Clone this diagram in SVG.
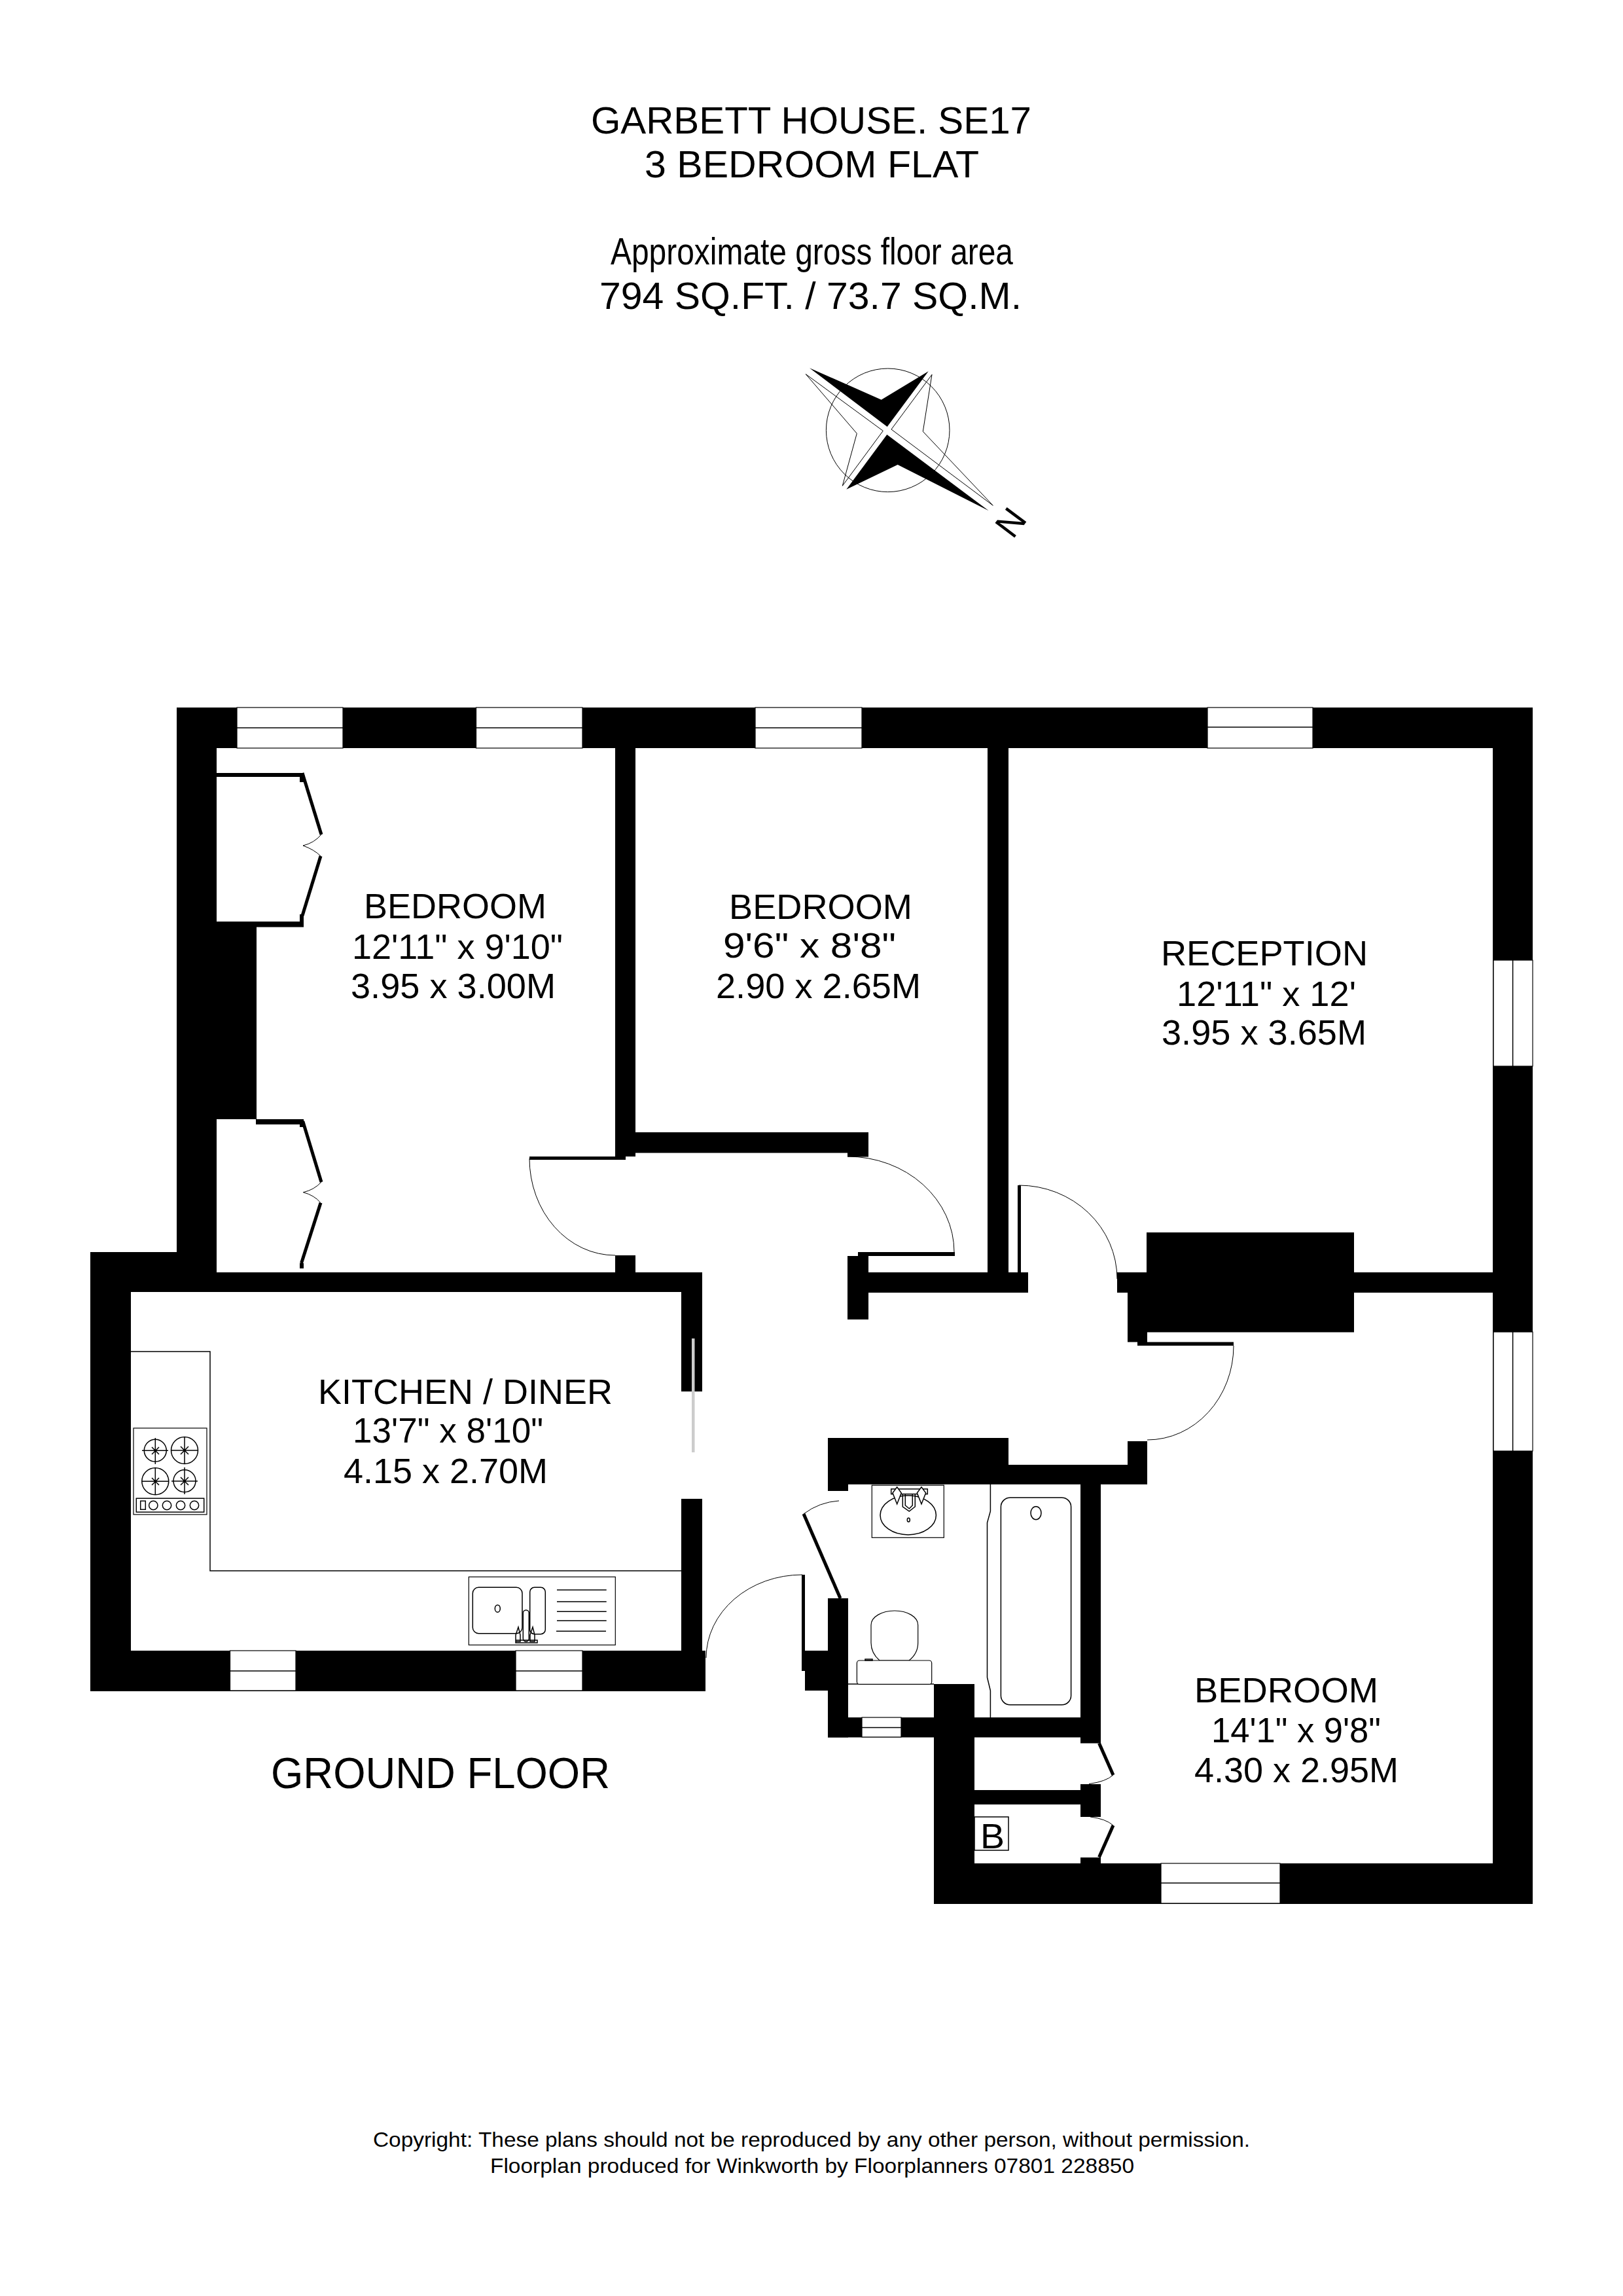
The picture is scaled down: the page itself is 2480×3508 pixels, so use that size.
<svg xmlns="http://www.w3.org/2000/svg" width="2480" height="3508" viewBox="0 0 2480 3508">
<style>
text{font-family:"Liberation Sans",Arial,sans-serif;fill:#000}
.t{font-size:58px}.r{font-size:53px}.f{font-size:32px}
.w{fill:#000;stroke:none}
.win{fill:#fff;stroke:#000;stroke-width:1.2}
.l{fill:none;stroke:#000;stroke-width:1.5}
.a{fill:none;stroke:#000;stroke-width:1}
.leaf{fill:none;stroke:#000;stroke-width:5}
.fx{fill:#fff;stroke:#000;stroke-width:1.2}
</style>
<rect width="2480" height="3508" fill="#fff"/>
<g id="compass">
<circle cx="1356.7" cy="657.3" r="94.3" class="a"/>
<polygon class="w" points="1237,562.3 1346.7,610.7 1418.7,567.3 1355.7,652"/>
<polygon class="w" points="1355.3,664 1510.7,780.3 1371.7,710 1293.3,747.7"/>
<polygon class="a" points="1231.3,571.7 1349.3,658.3 1287.3,742.3 1309.3,662.3"/>
<polygon class="a" points="1424,572.3 1362,656 1517.3,772.3 1410.3,659.3"/>
<text x="1544" y="798" font-size="54" text-anchor="middle" dominant-baseline="central" transform="rotate(-53 1544 798)">N</text>
</g>
<g id="walls">
<rect class="w" x="270" y="1081" width="2072" height="62"/>
<rect class="w" x="270" y="1081" width="61" height="863"/>
<rect class="w" x="331" y="1416" width="61" height="294"/>
<rect class="w" x="331" y="1181" width="133" height="6"/>
<rect class="w" x="458" y="1187" width="6" height="8"/>
<rect class="w" x="331" y="1408" width="133" height="8.500"/>
<rect class="w" x="458" y="1397" width="6" height="11"/>
<rect class="w" x="391" y="1710" width="73" height="8"/>
<rect class="w" x="458" y="1718" width="6" height="4"/>
<rect class="w" x="458" y="1930" width="6" height="8"/>
<rect class="w" x="138" y="1913" width="132" height="61"/>
<rect class="w" x="270" y="1944" width="803" height="30"/>
<rect class="w" x="138" y="1913" width="62" height="671"/>
<rect class="w" x="138" y="2522" width="940" height="62"/>
<rect class="w" x="1041" y="1944" width="32" height="182"/>
<rect class="w" x="1041" y="2290" width="32" height="294"/>
<rect class="w" x="940" y="1143" width="31" height="624"/>
<rect class="w" x="940" y="1767" width="16" height="5"/>
<rect class="w" x="809" y="1767" width="147" height="5"/>
<rect class="w" x="940" y="1918" width="31" height="26"/>
<rect class="w" x="971" y="1730" width="356" height="31.500"/>
<rect class="w" x="1295" y="1761" width="32" height="6.500"/>
<rect class="w" x="1509" y="1143" width="32" height="801"/>
<rect class="w" x="1311" y="1913" width="148" height="6"/>
<rect class="w" x="1295" y="1919" width="32" height="97"/>
<rect class="w" x="1295" y="1944" width="276" height="31"/>
<rect class="w" x="1555" y="1811" width="5" height="133"/>
<rect class="w" x="1707" y="1944" width="574" height="31"/>
<rect class="w" x="1752" y="1883" width="317" height="152.500"/>
<rect class="w" x="1723" y="1975" width="30" height="75.500"/>
<rect class="w" x="1738" y="2035" width="15" height="21"/>
<rect class="w" x="1738" y="2050.500" width="147" height="5.500"/>
<rect class="w" x="2281" y="1143" width="61" height="1766"/>
<rect class="w" x="1427" y="2847" width="915" height="62"/>
<rect class="w" x="1427" y="2573" width="62" height="336"/>
<rect class="w" x="1265" y="2197" width="276" height="71"/>
<rect class="w" x="1265" y="2268" width="31" height="10"/>
<rect class="w" x="1541" y="2238" width="209" height="30"/>
<rect class="w" x="1723" y="2202" width="30" height="66"/>
<rect class="w" x="1651" y="2268" width="31" height="395.500"/>
<rect class="w" x="1265" y="2624" width="386" height="30.500"/>
<rect class="w" x="1265" y="2442" width="31" height="212.500"/>
<rect class="w" x="1230" y="2522" width="35" height="61"/>
<rect class="w" x="1225" y="2406" width="5" height="147"/>
<rect class="w" x="1489" y="2735" width="162" height="22"/>
<rect class="w" x="1651" y="2726" width="31" height="50"/>
<rect class="w" x="1651" y="2838" width="31" height="9"/>
</g>
<g id="windows">
<rect class="win" x="362" y="1081" width="162" height="62"/><path class="l" d="M362 1112H524"/>
<rect class="win" x="727.500" y="1081" width="162.500" height="62"/><path class="l" d="M727.500 1112H890"/>
<rect class="win" x="1154" y="1081" width="163" height="62"/><path class="l" d="M1154 1112H1317"/>
<rect class="win" x="1845" y="1081" width="161" height="62"/><path class="l" d="M1845 1111H2006"/>
<rect class="win" x="2282" y="1467" width="60" height="162"/><path class="l" d="M2311.600 1467V1629"/>
<rect class="win" x="2282" y="2035" width="60" height="182"/><path class="l" d="M2311.600 2035V2217"/>
<rect class="win" x="351.500" y="2522" width="100.500" height="61"/><path class="l" d="M351.500 2553H452"/>
<rect class="win" x="788" y="2522" width="102" height="61"/><path class="l" d="M788 2553H890"/>
<rect class="win" x="1317" y="2624" width="60" height="30"/><path class="l" d="M1317 2639.600H1377"/>
<rect class="win" x="1774" y="2847" width="182" height="61"/><path class="l" d="M1774 2877H1956"/>
<rect x="1057" y="2045" width="4.500" height="174" fill="#ccc"/>
</g>
<g id="doors">
<path class="a" d="M809 1770A131 148 0 0 0 940 1918"/>
<path class="a" d="M1295 1767A163 146 0 0 1 1458 1913"/>
<path class="a" d="M1557 1811A150 143 0 0 1 1707 1954"/>
<path class="a" d="M1885 2056A132 144 0 0 1 1753 2200"/>
<path class="a" d="M1079 2533A147 127 0 0 1 1226 2406"/>
<path class="a" d="M1228 2313Q1252 2295 1282 2293"/>
<path class="leaf" d="M1228 2313L1284 2442"/>
<path class="leaf" d="M1679.500 2663.400L1701 2712"/>
<path class="a" d="M1701 2712Q1690 2722 1664 2725.600"/>
<path class="a" d="M1666 2776Q1690 2779 1701 2789"/>
<path class="leaf" d="M1701 2789L1679.500 2837.500"/>
<path class="leaf" d="M462 1181L491 1275"/><path class="a" d="M491 1275Q480 1288 463 1292Q480 1298 490 1308"/><path class="leaf" d="M490 1308L462 1399"/>
<path class="leaf" d="M462.700 1713L491 1806"/><path class="a" d="M491 1806Q480 1818 463.300 1821.700Q480 1826 490 1837.700"/><path class="leaf" d="M490 1837.700L460.500 1930"/>
</g>
<g id="kitchen-fittings">
<path class="l" d="M200 2065H321V2400H1041"/>
<rect class="fx" x="204" y="2182" width="112" height="132"/>
<g class="l">
<circle cx="237.300" cy="2216.300" r="17"/><circle cx="282" cy="2216" r="20.500"/><circle cx="237.300" cy="2263.300" r="20.500"/><circle cx="282" cy="2262.700" r="17"/>
<path d="M217 2216.300H257M237.300 2197V2237M232 2211L243 2222M243 2211L232 2222"/>
<path d="M261 2216H303M282 2195V2237M276 2210L288 2222M288 2210L276 2222"/>
<path d="M217 2263.300H258M237.300 2243V2284M232 2258L243 2269M243 2258L232 2269"/>
<path d="M262 2263H302M282 2242V2283M276 2257L288 2269M288 2257L276 2269"/>
<rect x="208.300" y="2289.300" width="103.400" height="21"/><rect x="214.700" y="2293.300" width="7.600" height="13"/>
<circle cx="234.300" cy="2300" r="6.700"/><circle cx="255" cy="2300" r="6.700"/><circle cx="276" cy="2300" r="6.700"/><circle cx="297" cy="2300" r="6.700"/>
</g>
<rect class="fx" x="716.300" y="2409.300" width="224" height="104"/>
<g class="l">
<rect x="722.300" y="2425.300" width="75.700" height="70.400" rx="9"/><rect x="809.700" y="2425.300" width="23.600" height="71.400" rx="7"/>
<ellipse cx="760.300" cy="2457.700" rx="4" ry="5.500"/>
<path d="M851 2429.300H926.700M851 2447.300H926.700M851 2462.300H926.700M851 2476.300H926.700M850 2492.300H926"/>
<rect x="799.300" y="2460" width="9" height="48" rx="4.500" fill="#fff"/>
<path d="M788 2508V2498L792 2486L795 2498V2508ZM810 2508V2498L814 2486L817 2498V2508ZM788 2506H821V2510H788Z"/>
</g>
</g>
<g id="bathroom-fittings">
<rect class="fx" x="1332.300" y="2269.300" width="110" height="80"/>
<g class="l">
<ellipse cx="1387.700" cy="2315" rx="42.700" ry="30"/><ellipse cx="1388.300" cy="2322.300" rx="2" ry="3"/>
<rect x="1361.700" y="2275" width="55.600" height="7.700" fill="#fff"/>
<path d="M1379.300 2283V2302L1389.300 2309L1398.300 2302V2283M1383.300 2283V2300L1389.300 2305L1394.300 2300V2283"/>
<path d="M1370.700 2272L1364 2281L1370.700 2298L1377.300 2281ZM1408 2272L1401.300 2281L1408 2298L1414.700 2281Z" fill="#fff"/>
</g>
<path class="l" d="M1296 2573H1427"/>
<path class="fx" d="M1344 2537C1336 2530 1331 2520 1331 2510V2483C1331 2470 1348 2461 1367 2461C1386 2461 1402.700 2470 1402.700 2483V2510C1402.700 2520 1398 2530 1389 2537Z"/>
<rect class="fx" x="1309.400" y="2537" width="114.300" height="36.400" rx="4"/>
<rect class="l" x="1322" y="2535" width="11" height="2"/>
<path class="l" d="M1513.400 2268V2309L1508.500 2326.600V2563L1513.400 2583V2624"/>
<rect class="l" x="1529.400" y="2288.300" width="107.200" height="316.400" rx="14"/>
<ellipse class="l" cx="1583" cy="2311.700" rx="8" ry="10"/>
<rect class="l" x="1489" y="2776" width="52" height="51"/>
<text x="1498" y="2824" font-size="54" textLength="37" lengthAdjust="spacingAndGlyphs">B</text>
</g>
<g id="labels">
<text class="t" x="903" y="204" textLength="673" lengthAdjust="spacingAndGlyphs">GARBETT HOUSE. SE17</text>
<text class="t" x="985" y="270.500" textLength="511" lengthAdjust="spacingAndGlyphs">3 BEDROOM FLAT</text>
<text class="t" x="933" y="404" textLength="615" lengthAdjust="spacingAndGlyphs">Approximate gross floor area</text>
<text class="t" x="916" y="472" textLength="645" lengthAdjust="spacingAndGlyphs">794 SQ.FT. / 73.7 SQ.M.</text>
<text font-size="66" x="414" y="2732" textLength="518" lengthAdjust="spacingAndGlyphs">GROUND FLOOR</text>
<text class="r" x="556" y="1403" textLength="279" lengthAdjust="spacingAndGlyphs">BEDROOM</text>
<text class="r" x="538" y="1465" textLength="322" lengthAdjust="spacingAndGlyphs">12'11" x 9'10"</text>
<text class="r" x="536" y="1525" textLength="313" lengthAdjust="spacingAndGlyphs">3.95 x 3.00M</text>
<text class="r" x="1114" y="1404" textLength="280" lengthAdjust="spacingAndGlyphs">BEDROOM</text>
<text class="r" x="1105" y="1463" textLength="264" lengthAdjust="spacingAndGlyphs">9'6" x 8'8"</text>
<text class="r" x="1094" y="1525" textLength="313" lengthAdjust="spacingAndGlyphs">2.90 x 2.65M</text>
<text class="r" x="1774" y="1475" textLength="316" lengthAdjust="spacingAndGlyphs">RECEPTION</text>
<text class="r" x="1798" y="1537" textLength="274" lengthAdjust="spacingAndGlyphs">12'11" x 12'</text>
<text class="r" x="1775" y="1596" textLength="313" lengthAdjust="spacingAndGlyphs">3.95 x 3.65M</text>
<text class="r" x="486" y="2145" textLength="450" lengthAdjust="spacingAndGlyphs">KITCHEN / DINER</text>
<text class="r" x="539" y="2204" textLength="291" lengthAdjust="spacingAndGlyphs">13'7" x 8'10"</text>
<text class="r" x="525" y="2266" textLength="312" lengthAdjust="spacingAndGlyphs">4.15 x 2.70M</text>
<text class="r" x="1825" y="2601" textLength="281" lengthAdjust="spacingAndGlyphs">BEDROOM</text>
<text class="r" x="1851" y="2662" textLength="259" lengthAdjust="spacingAndGlyphs">14'1" x 9'8"</text>
<text class="r" x="1825" y="2723" textLength="312" lengthAdjust="spacingAndGlyphs">4.30 x 2.95M</text>
<text class="f" x="570" y="3280" textLength="1340" lengthAdjust="spacingAndGlyphs">Copyright: These plans should not be reproduced by any other person, without permission.</text>
<text class="f" x="749" y="3320" textLength="984" lengthAdjust="spacingAndGlyphs">Floorplan produced for Winkworth by Floorplanners 07801 228850</text>
</g>
</svg>
